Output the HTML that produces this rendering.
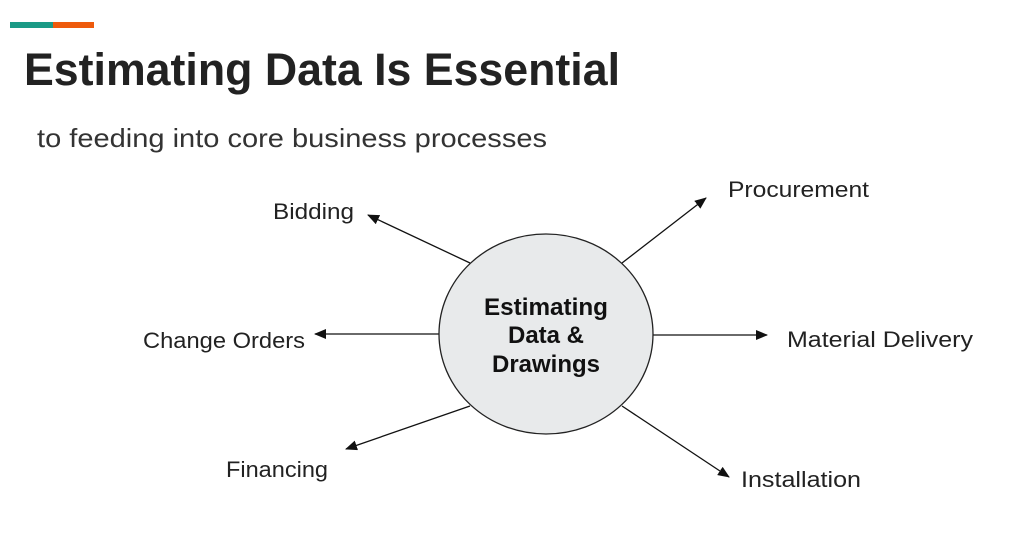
<!DOCTYPE html>
<html><head><meta charset="utf-8"><style>
html,body{margin:0;padding:0;background:#fff;width:1024px;height:536px;overflow:hidden}
</style></head><body>
<svg width="1024" height="536" viewBox="0 0 1024 536" xmlns="http://www.w3.org/2000/svg">
<defs><marker id="a" markerWidth="12" markerHeight="10" refX="11" refY="5" orient="auto" markerUnits="userSpaceOnUse"><path d="M0,0 L12,5 L0,10 z" fill="#111"/></marker></defs>
<rect x="10" y="22" width="43" height="6" fill="#1a9a86"/>
<rect x="53" y="22" width="41" height="6" fill="#ee5a0c"/>
<text x="24" y="85" font-family="Liberation Sans, sans-serif" font-weight="bold" font-size="45" fill="#222" textLength="596" lengthAdjust="spacingAndGlyphs">Estimating Data Is Essential</text>
<text x="37" y="147" font-family="Liberation Sans, sans-serif" font-size="26" fill="#333" textLength="510" lengthAdjust="spacingAndGlyphs">to feeding into core business processes</text>
<g stroke="#111" stroke-width="1.3" marker-end="url(#a)">
<line x1="470" y1="263" x2="368" y2="215"/>
<line x1="622" y1="263" x2="706" y2="198"/>
<line x1="439" y1="334" x2="315" y2="334"/>
<line x1="653" y1="335" x2="767" y2="335"/>
<line x1="470" y1="406" x2="346" y2="449"/>
<line x1="622" y1="406" x2="729" y2="477"/>
</g>
<ellipse cx="546" cy="334" rx="107" ry="100" fill="#e8eaeb" stroke="#222" stroke-width="1.3"/>
<g font-family="Liberation Sans, sans-serif" font-weight="bold" font-size="24" fill="#111" text-anchor="middle">
<text x="546" y="315" textLength="124" lengthAdjust="spacingAndGlyphs">Estimating</text>
<text x="546" y="343">Data &amp;</text>
<text x="546" y="372" textLength="108" lengthAdjust="spacingAndGlyphs">Drawings</text>
</g>
<g font-family="Liberation Sans, sans-serif" font-size="22" fill="#222" lengthAdjust="spacingAndGlyphs">
<text x="273" y="219" textLength="81" lengthAdjust="spacingAndGlyphs">Bidding</text>
<text x="728" y="197" textLength="141" lengthAdjust="spacingAndGlyphs">Procurement</text>
<text x="143" y="348" textLength="162" lengthAdjust="spacingAndGlyphs">Change Orders</text>
<text x="787" y="347" textLength="186" lengthAdjust="spacingAndGlyphs">Material Delivery</text>
<text x="226" y="477" textLength="102" lengthAdjust="spacingAndGlyphs">Financing</text>
<text x="741" y="487" textLength="120" lengthAdjust="spacingAndGlyphs">Installation</text>
</g>
</svg>
</body></html>
